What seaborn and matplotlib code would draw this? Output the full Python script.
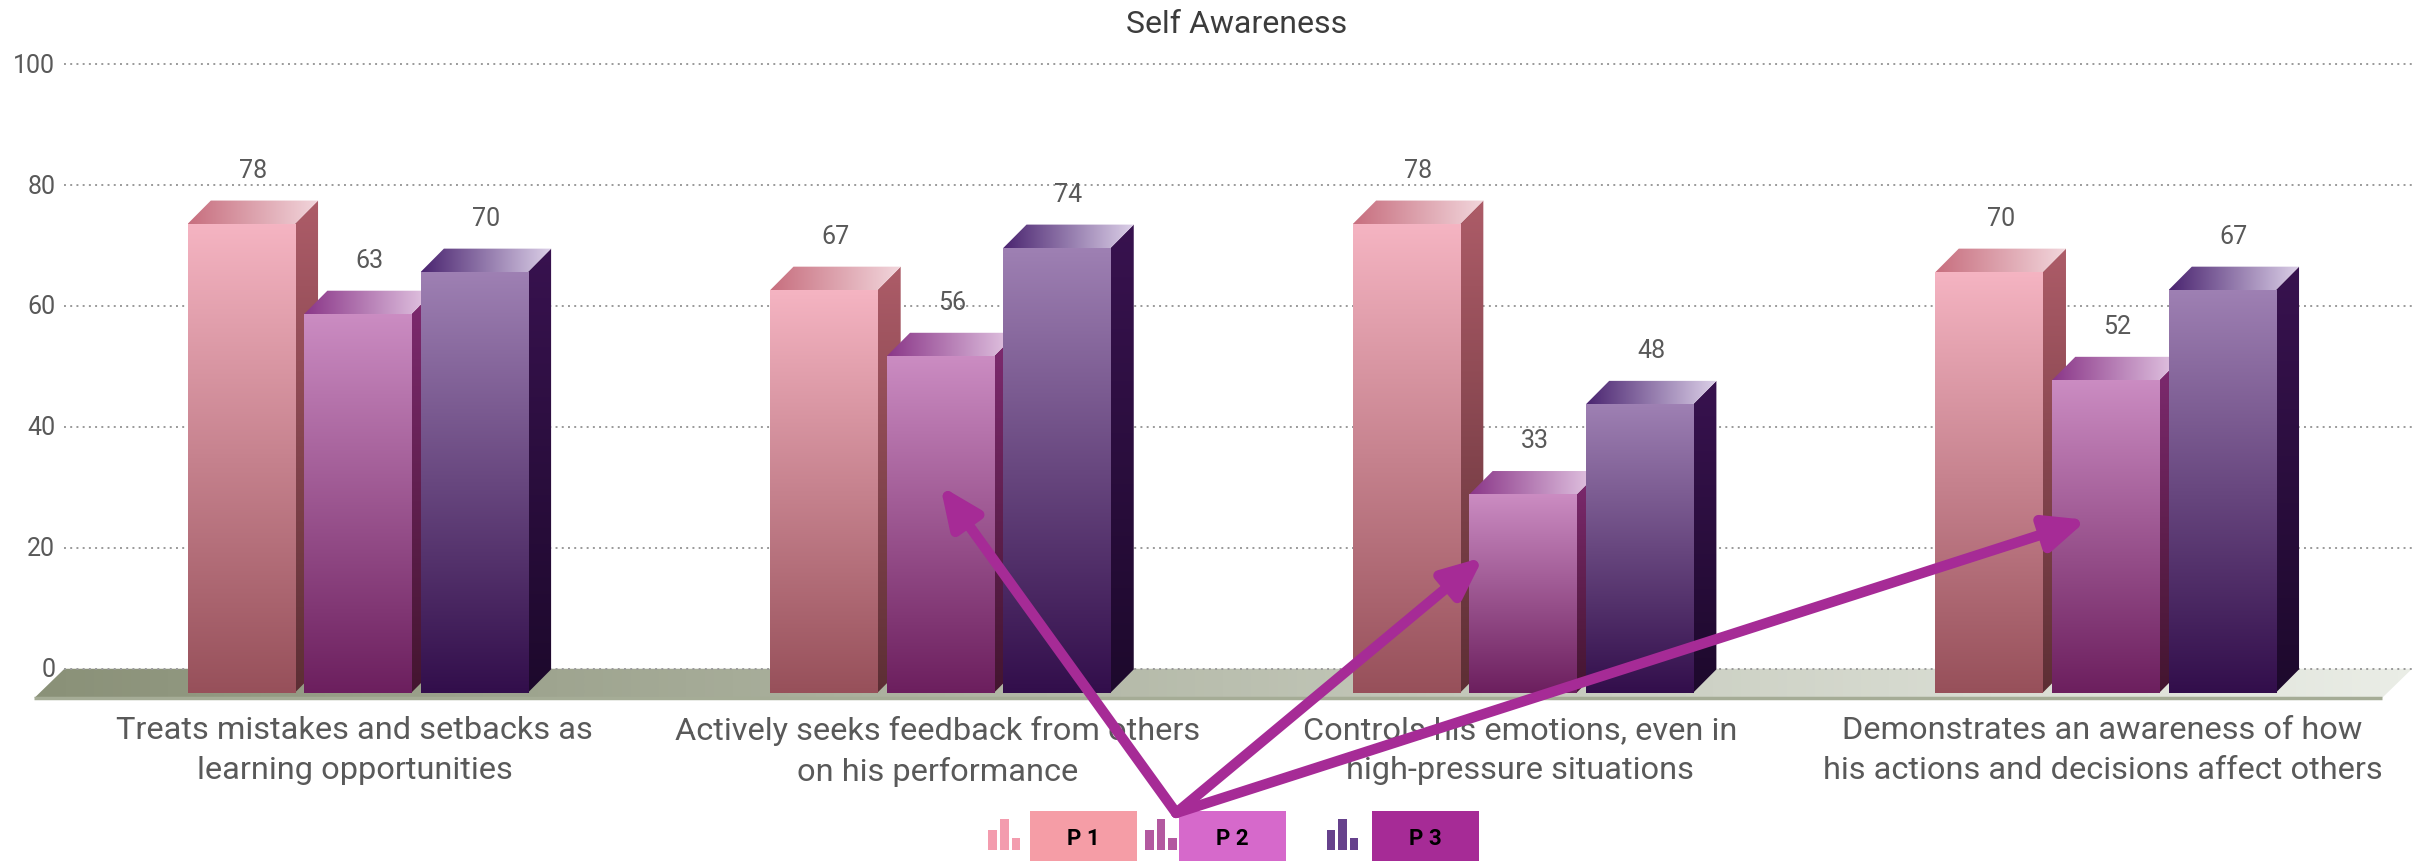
import numpy as np
import pandas as pd
import matplotlib
matplotlib.use("Agg")
import matplotlib.pyplot as plt
from matplotlib.colors import LinearSegmentedColormap as LSC
from matplotlib.patches import Polygon, Rectangle, FancyArrowPatch
from matplotlib.transforms import ScaledTranslation
import seaborn as sns

categories = ["Treats mistakes and setbacks as\nlearning opportunities",
              "Actively seeks feedback from others\non his performance",
              "Controls his emotions, even in\nhigh-pressure situations",
              "Demonstrates an awareness of how\nhis actions and decisions affect others"]
series_names = ["P 1", "P 2", "P 3"]
p1 = [78, 67, 78, 70]
p2 = [63, 56, 33, 52]
p3 = [70, 74, 48, 67]
y_ticks = [0, 20, 40, 60, 80, 100]
title = "Self Awareness"

front_cols = [("#F5B4C2", "#97505A"), ("#CB8CC2", "#6C1F5E"), ("#9E80B3", "#320E4B")]
side_cols = [("#AD5C68", "#5C2E34"), ("#7E2A70", "#43152F"), ("#38124F", "#1D092C")]
top_cols = [("#C76E7E", "#F2D6DC"), ("#8A3688", "#E6CCE6"), ("#4A2470", "#DCD0E8")]
legend_cols = ["#F59DA6", "#D669CB", "#A62B96"]
icon_cols = ["#F28BA0", "#A63C90", "#4B1F78"]
ARROW = "#A62B96"
TXT = "#595959"

W, H = 2433, 862
SX, SY = W / 1568, H / 556   # reference-view pixels to full pixels
DX, DY = 0.04, 3.9           # 3D depth in data units
YMIN, YMAX = -0.9, 104.6
WALL0, WALL_SCALE = 4.0, 1.006  # back wall position of the y scale

sns.set_theme(style="white")
plt.rcParams["font.family"] = ["Roboto", "DejaVu Sans"]
fig = plt.figure(figsize=(W / 100, H / 100), dpi=100, facecolor="white")
ax_l, ax_r = 42.75 * SX / W, 1544.75 * SX / W
ax_b, ax_t = 1 - 451 * SY / H, 1 - 42 * SY / H
ax = fig.add_axes([ax_l, ax_b, ax_r - ax_l, ax_t - ax_b])

df = pd.DataFrame({"cat": categories * 3,
                   "series": np.repeat(series_names, 4),
                   "value": p1 + p2 + p3})
sns.barplot(data=df, x="cat", y="value", hue="series", hue_order=series_names,
            order=categories, width=0.6, gap=0.08, palette=legend_cols,
            legend=False, errorbar=None, ax=ax, zorder=5)
xlim = (-0.5, 3.5)
ax.set_xlim(xlim)
ax.set_ylim(YMIN, YMAX)


def grad(c0, c1, extent, clip, z, horizontal=False):
    cm = LSC.from_list("g", [c0, c1])
    arr = np.linspace(0, 1, 256)
    arr = arr[None, :] if horizontal else arr[:, None]
    im = ax.imshow(arr, cmap=cm, extent=extent, origin="upper", aspect="auto",
                   zorder=z, interpolation="bilinear", vmin=0, vmax=1)
    im.set_clip_on(True)
    im.set_clip_box(fig.bbox)
    im.set_clip_path(clip)


# floor
fx0, fx1 = (22 - 42.75) / 375.5 - 0.5, (1535 - 42.75) / 375.5 - 0.5
fy0, fy1 = YMIN, WALL0
FSL = 0.052
floor = Polygon([(fx0, fy0), (fx1, fy0), (fx1 + FSL, fy1), (fx0 + FSL, fy1)],
                closed=True, fc="none", ec="none", transform=ax.transData, clip_on=False)
ax.add_patch(floor)
grad("#8A9178", "#EAEDE6", (fx0, fx1 + FSL, fy0, fy1), floor, 1, horizontal=True)
ax.plot([fx0, fx1], [fy0, fy0], color="#A5AC96", lw=2.5, zorder=1.5, clip_on=False,
        solid_capstyle="butt")

# grid on the back wall
for t in y_ticks:
    yy = WALL0 + t * WALL_SCALE
    ax.plot([fx0 + FSL, fx1 + FSL + 0.005], [yy, yy], color="#9A9A9A", lw=1.4,
            linestyle=(0, (1, 2.2)), zorder=2, clip_on=False)

# 3D bars
for s, cont in enumerate(ax.containers):
    for bar in cont:
        x0, w, h = bar.get_x(), bar.get_width(), bar.get_height()
        x1 = x0 + w
        z = 5 + s
        bar.set_facecolor("none")
        bar.set_edgecolor("none")
        top = Polygon([(x0, h), (x1, h), (x1 + DX, h + DY), (x0 + DX, h + DY)],
                      closed=True, fc="none", ec="none")
        side = Polygon([(x1, 0), (x1 + DX, DY), (x1 + DX, h + DY), (x1, h)],
                       closed=True, fc="none", ec="none")
        front = Rectangle((x0, 0), w, h, fc="none", ec="none")
        for p in (top, side, front):
            ax.add_patch(p)
        grad(*side_cols[s], (x1, x1 + DX, 0, h + DY), side, z)
        grad(*top_cols[s], (x0, x1 + DX, h, h + DY), top, z, horizontal=True)
        grad(*front_cols[s], (x0, x1, 0, h), front, z + 0.1)
        ax.annotate(f"{h:.0f}", (x0 + w / 2 + DX / 2, h + DY), xytext=(0, 31),
                    textcoords="offset pixels", ha="center", va="center",
                    fontsize=18, color=TXT, zorder=20)

ax.set_xlim(xlim)
ax.set_ylim(YMIN, YMAX)
sns.despine(ax=ax, left=True, bottom=True)
ax.set_xlabel("")
ax.set_ylabel("")
ax.set_yticks([WALL0 + t * WALL_SCALE for t in y_ticks], [str(t) for t in y_ticks])
ax.tick_params(axis="y", length=0, pad=8, labelsize=18, labelcolor=TXT)
ax.tick_params(axis="x", length=0, pad=12, labelsize=23.4, labelcolor=TXT)
for lab in ax.get_xticklabels():
    lab.set_linespacing(1.47)
    lab.set_transform(lab.get_transform() + ScaledTranslation(-3 / 100, 0, fig.dpi_scale_trans))
for lab in ax.get_yticklabels():
    lab.set_transform(lab.get_transform() + ScaledTranslation(0, 2 / 100, fig.dpi_scale_trans))
ax.patch.set_alpha(0)

fig.text(797 * SX / W, 1 - 16 * SY / H, title, ha="center", va="center",
         fontsize=23, fontweight="normal", color="#3C3C3C")


def fx(x):
    return x * SX / W


def fy(y):
    return 1 - y * SY / H


# legend
for name, col, ic, (rx0, rx1), ix in zip(series_names, legend_cols, icon_cols,
                                         [(664, 733), (760, 829), (884, 953)],
                                         [637, 738, 855]):
    fig.add_artist(Rectangle((fx(rx0), fy(556)), fx(rx1 - rx0), 32 * SY / H, fc=col, ec="none",
                             transform=fig.transFigure, zorder=3))
    fig.text(fx((rx0 + rx1) / 2), fy(541), name, ha="center", va="center", fontsize=16,
             fontweight="bold", color="black", zorder=4)
    for off, top_y in zip([0, 7.5, 15], [536, 529, 541]):
        fig.add_artist(Rectangle((fx(ix + off), fy(549)), fx(5.5), (549 - top_y) * SY / H,
                                 fc=ic, ec="none", alpha=0.85,
                                 transform=fig.transFigure, zorder=3))

# annotation arrows
for end in [(606, 314), (956, 360), (1345, 336)]:
    fig.add_artist(FancyArrowPatch((fx(758), fy(525)), (fx(end[0]), fy(end[1])),
                                   transform=fig.transFigure, color=ARROW, lw=7.5,
                                   arrowstyle="-|>,head_length=0.75,head_width=0.33",
                                   mutation_scale=32, shrinkA=0, shrinkB=0, zorder=10))

fig.savefig("out.png", dpi=100)
